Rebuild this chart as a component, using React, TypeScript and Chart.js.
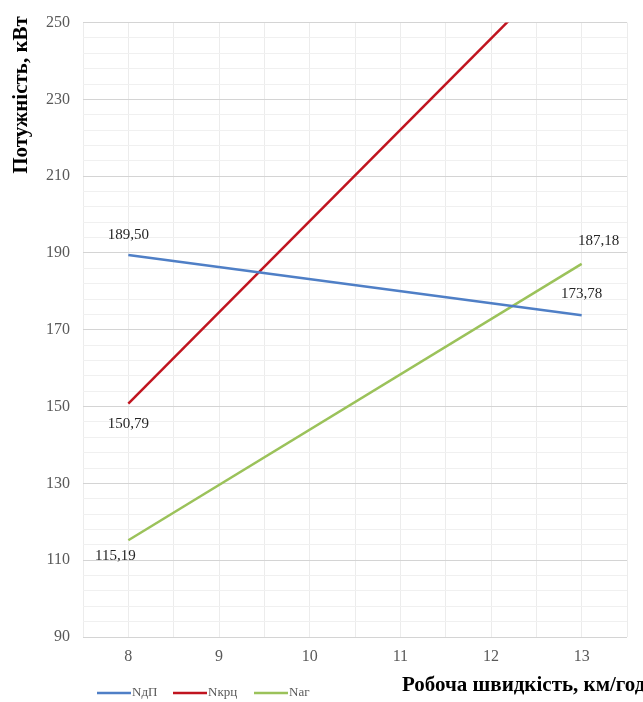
import React, { useEffect, useRef } from "react";
import { Chart, registerables } from "chart.js";

Chart.register(...registerables);

const speeds = [8, 13];
const seriesNames = ["NдП", "Nкрц", "Nаг"];
const nDP = [189.5, 173.78];
const nKRC = [150.79, 269.6];
const nAG = [115.19, 187.18];
const labelTexts = [
  ["189,50", "173,78"],
  ["150,79", ""],
  ["115,19", "187,18"],
];
const yTitle = "Потужність, кВт";
const xTitle = "Робоча швидкість, км/год";

const colors = ["#4f7fc6", "#c0141f", "#9bc25a"];
// label offsets (style only)
const labelOffsets = [
  [[0, -20], [0, -21]],
  [[0, 20], [0, 0]],
  [[-13, 16], [17, -23]],
];

const SERIF = "'Liberation Serif', 'Times New Roman', serif";

const customPlugin = {
  id: "custom",
  afterDatasetsDraw(chart: any) {
    const ctx = chart.ctx;
    const area = chart.chartArea;
    ctx.save();
    ctx.font = `15px ${SERIF}`;
    ctx.fillStyle = "#262626";
    ctx.textAlign = "center";
    ctx.textBaseline = "middle";
    chart.data.datasets.forEach((ds: any, di: number) => {
      const meta = chart.getDatasetMeta(di);
      meta.data.forEach((pt: any, i: number) => {
        const t = labelTexts[di][i];
        if (!t) return;
        if (pt.y < area.top - 1 || pt.y > area.bottom + 1) return;
        const [dx, dy] = labelOffsets[di][i];
        ctx.fillText(t, pt.x + dx, pt.y + dy);
      });
    });
    ctx.restore();
  },
  afterDraw(chart: any) {
    const ctx = chart.ctx;
    ctx.save();
    // y title
    ctx.font = `bold 21px ${SERIF}`;
    ctx.fillStyle = "#000";
    ctx.textAlign = "center";
    ctx.textBaseline = "middle";
    ctx.translate(22, 95);
    ctx.rotate(-Math.PI / 2);
    ctx.fillText(yTitle, 0, 0);
    ctx.restore();

    ctx.save();
    ctx.font = `bold 21px ${SERIF}`;
    ctx.fillStyle = "#000";
    ctx.textAlign = "left";
    ctx.textBaseline = "middle";
    ctx.fillText(xTitle, 402, 686);
    ctx.restore();

    // legend
    ctx.save();
    ctx.font = `13px ${SERIF}`;
    ctx.fillStyle = "#595959";
    ctx.textAlign = "left";
    ctx.textBaseline = "middle";
    const starts = [97, 173, 254];
    seriesNames.forEach((name, i) => {
      const x = starts[i];
      ctx.strokeStyle = colors[i];
      ctx.lineWidth = 2.5;
      ctx.beginPath();
      ctx.moveTo(x, 693);
      ctx.lineTo(x + 34, 693);
      ctx.stroke();
      ctx.fillText(name, x + 35, 693);
    });
    ctx.restore();
  },
};

export default function App() {
  const ref = useRef<HTMLCanvasElement>(null);
  useEffect(() => {
    if (!ref.current) return;
    const mk = (vals: number[]) => speeds.map((x, i) => ({ x, y: vals[i] }));
    const chart = new Chart(ref.current, {
      type: "line",
      data: {
        datasets: [nDP, nKRC, nAG].map((v, i) => ({
          label: seriesNames[i],
          data: mk(v),
          borderColor: colors[i],
          backgroundColor: colors[i],
          borderWidth: 2.5,
          pointRadius: 0,
          tension: 0,
        })),
      },
      options: {
        animation: false,
        responsive: true,
        maintainAspectRatio: false,
        layout: { padding: { top: 22, right: 16, left: 0, bottom: 0 } },
        plugins: { legend: { display: false }, tooltip: { enabled: false } },
        scales: {
          x: {
            type: "linear",
            min: 7.5,
            max: 13.5,
            afterFit: (s: any) => {
              s.height = 65;
            },
            ticks: {
              stepSize: 0.5,
              autoSkip: false,
              maxRotation: 0,
              padding: 10,
              color: "#595959",
              font: { family: SERIF, size: 16 },
              callback: (v: any) => (Number.isInteger(v) ? String(v) : ""),
            },
            grid: { color: "#ececec", drawTicks: false, lineWidth: 1 },
            border: { display: false },
          },
          y: {
            min: 90,
            max: 250,
            afterFit: (s: any) => {
              s.width = 83;
            },
            ticks: {
              stepSize: 4,
              autoSkip: false,
              padding: 13,
              color: "#595959",
              font: { family: SERIF, size: 16 },
              callback: (v: any) => ((v - 90) % 20 === 0 ? String(v) : ""),
            },
            grid: {
              drawTicks: false,
              color: (c: any) =>
                (c.tick && (c.tick.value - 90) % 20 === 0) ? "#d4d4d4" : "#f0f0f0",
            },
            border: { display: false },
          },
        },
      },
      plugins: [customPlugin],
    } as any);
    return () => chart.destroy();
  }, []);
  return (
    <div style={{ position: "fixed", left: 0, top: 0, width: 643, height: 702, background: "#fff" }}>
      <canvas ref={ref} />
    </div>
  );
}
